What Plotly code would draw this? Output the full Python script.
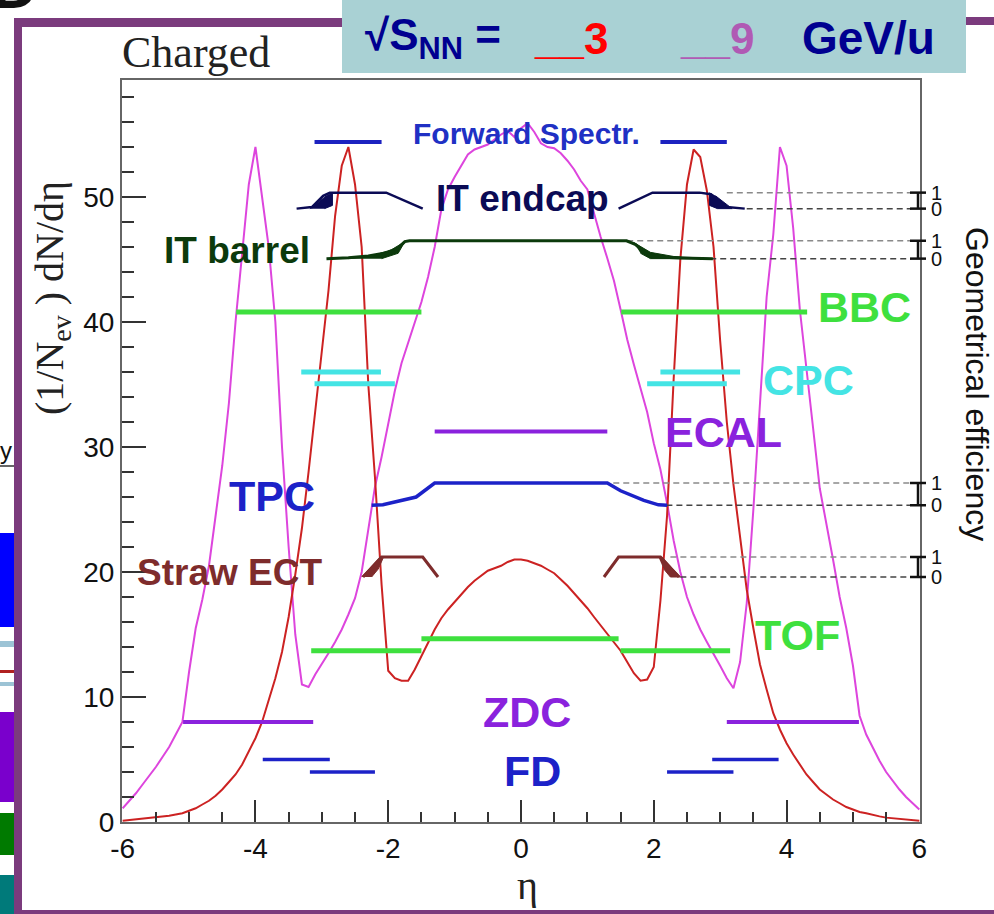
import plotly.graph_objects as go

# ---------------- data ----------------
eta = [-6.0, -5.9, -5.8, -5.7, -5.6, -5.5, -5.4, -5.3, -5.2, -5.1,
       -5.0, -4.9, -4.8, -4.7, -4.6, -4.5, -4.4, -4.3, -4.2, -4.1,
       -4.0, -3.9, -3.8, -3.7, -3.6, -3.5, -3.4, -3.3, -3.2, -3.1,
       -3.0, -2.9, -2.8, -2.7, -2.6, -2.5, -2.4, -2.3, -2.2, -2.1,
       -2.0, -1.9, -1.8, -1.7, -1.6, -1.5, -1.4, -1.3, -1.2, -1.1,
       -1.0, -0.9, -0.8, -0.7, -0.6, -0.5, -0.4, -0.3, -0.2, -0.1,
       0.0, 0.1, 0.2, 0.3, 0.4, 0.5, 0.6, 0.7, 0.8, 0.9,
       1.0, 1.1, 1.2, 1.3, 1.4, 1.5, 1.6, 1.7, 1.8, 1.9,
       2.0, 2.1, 2.2, 2.3, 2.4, 2.5, 2.6, 2.7, 2.8, 2.9,
       3.0, 3.1, 3.2, 3.3, 3.4, 3.5, 3.6, 3.7, 3.8, 3.9,
       4.0, 4.1, 4.2, 4.3, 4.4, 4.5, 4.6, 4.7, 4.8, 4.9,
       5.0, 5.1, 5.2, 5.3, 5.4, 5.5, 5.6, 5.7, 5.8, 5.9, 6.0]

dndeta_3gev = [0.1, 0.15, 0.2, 0.25, 0.3, 0.35, 0.45, 0.5, 0.6, 0.7,
               0.9, 1.1, 1.4, 1.7, 2.1, 2.6, 3.2, 3.8, 4.6, 5.6,
               6.7, 8.0, 9.7, 11.5, 13.6, 16.4, 19.8, 23.5, 28.0, 33.0,
               38.0, 42.5, 48.5, 52.5, 54.0, 51.0, 46.0, 35.0, 27.6, 19.0,
               12.1, 11.5, 11.3, 11.3, 12.2, 13.3, 14.4, 15.4, 16.3, 17.0,
               17.6, 18.2, 18.8, 19.3, 19.7, 20.1, 20.3, 20.5, 20.8, 21.0,
               21.0, 20.9, 20.7, 20.5, 20.2, 19.9, 19.4, 18.9, 18.3, 17.7,
               17.1, 16.4, 15.7, 15.0, 14.3, 13.7, 12.8, 11.9, 11.3, 11.4,
               12.4, 17.7, 24.5, 35.5, 45.0, 51.0, 53.8, 53.2, 50.5, 46.0,
               38.5, 32.0, 27.0, 22.8, 18.6, 15.5, 12.6, 10.6, 8.7, 7.4,
               6.3, 5.4, 4.6, 3.8, 3.2, 2.6, 2.2, 1.8, 1.5, 1.2,
               1.0, 0.8, 0.7, 0.55, 0.45, 0.35, 0.3, 0.25, 0.2, 0.15, 0.1]

dndeta_9gev = [1.1, 1.7, 2.3, 3.0, 3.7, 4.4, 5.2, 6.0, 7.0, 8.0,
               12.0, 15.5, 17.8, 20.5, 24.5, 28.5, 33.5, 40.0, 45.5, 51.0,
               54.0, 50.0, 46.0, 40.0, 30.0, 22.0, 15.0, 11.0, 10.8, 11.8,
               12.6, 13.5, 14.4, 15.4, 16.6, 17.9, 20.0, 23.5, 26.8, 29.2,
               31.8, 34.5, 36.7, 38.4, 40.0, 41.6, 43.6, 46.0, 49.0, 50.6,
               51.6, 52.5, 53.4, 53.8, 54.0, 54.2, 54.6, 55.0, 55.3, 54.8,
               55.5, 55.9, 55.2, 54.3, 54.0, 53.9, 53.5, 52.9, 52.2, 51.3,
               50.6, 48.6, 46.8, 45.1, 43.3, 41.0, 38.6, 36.6, 34.6, 32.8,
               30.3, 28.2, 25.5, 22.5, 20.0, 18.0, 16.6, 15.4, 14.4, 13.5,
               12.5, 11.5, 10.7, 12.8, 17.5, 25.0, 33.5, 42.0, 47.0, 54.0,
               52.5, 47.5, 41.0, 36.5, 31.5, 26.7, 24.0, 21.0, 18.0, 15.5,
               12.5, 8.5, 7.0, 5.9, 4.9, 4.0, 3.3, 2.6, 2.0, 1.5, 1.0]

x_tick_vals = [-6, -4, -2, 0, 2, 4, 6]
x_tick_text = ["-6", "-4", "-2", "0", "2", "4", "6"]
y_tick_vals = [0, 10, 20, 30, 40, 50]

# detector acceptance ranges in eta, and the dN/deta level at which each is drawn
fwd_spectr_ranges = [(-3.11, -2.10), (2.10, 3.10)]
fwd_spectr_level = 54.4
bbc_ranges = [(-4.29, -1.50), (1.51, 4.31)]
bbc_level = 40.8
cpc_upper_ranges = [(-3.31, -2.11), (2.10, 3.30)]
cpc_upper_level = 36.0
cpc_lower_ranges = [(-3.11, -1.90), (1.90, 3.10)]
cpc_lower_level = 35.07
ecal_ranges = [(-1.30, 1.30)]
ecal_level = 31.25
tof_outer_ranges = [(-3.16, -1.50), (1.50, 3.15)]
tof_outer_level = 13.7
tof_inner_ranges = [(-1.50, 1.47)]
tof_inner_level = 14.67
zdc_ranges = [(-5.09, -3.13), (3.10, 5.09)]
zdc_level = 8.0
fd_upper_ranges = [(-3.89, -2.88), (2.88, 3.88)]
fd_upper_level = 5.0
fd_lower_ranges = [(-3.18, -2.20), (2.20, 3.20)]
fd_lower_level = 4.0

# geometrical efficiency curves: (eta, efficiency 0..1) drawn between level0 and level1
it_endcap_eta = [-3.38, -3.15, -2.98, -2.88, -2.03, -1.48, None, 1.47, 1.98, 2.69, 2.86, 3.10, 3.37]
it_endcap_eff = [0.0, 0.1, 0.8, 1.0, 1.0, 0.0, None, 0.0, 1.0, 1.0, 0.9, 0.1, 0.0]
it_endcap_levels = (49.07, 50.35)
it_barrel_eta = [-2.93, -2.6, -2.3, -2.0, -1.85, -1.75, -1.68, 1.59, 1.72, 1.85, 1.98, 2.4, 2.89]
it_barrel_eff = [0.0, 0.05, 0.15, 0.35, 0.6, 0.95, 1.0, 1.0, 0.8, 0.4, 0.1, 0.03, 0.0]
it_barrel_levels = (45.07, 46.5)
tpc_eta = [-2.25, -2.08, -1.58, -1.30, 1.30, 1.50, 1.85, 2.07, 2.20]
tpc_eff = [0.0, 0.02, 0.37, 1.0, 1.0, 0.65, 0.22, 0.02, 0.0]
tpc_levels = (25.34, 27.12)
straw_eta = [-2.38, -2.10, -1.48, -1.25, None, 1.25, 1.47, 2.10, 2.38]
straw_eff = [0.0, 1.0, 1.0, 0.0, None, 0.0, 1.0, 1.0, 0.0]
straw_levels = (19.6, 21.2)

# filled edges of the efficiency curves
it_endcap_fill = [([-3.18, -2.93, -2.84, -2.84, -2.96], [0.0, 0.8, 1.0, 0.2, 0.0]),
                  ([2.84, 2.84, 2.96, 3.18, 2.93], [1.0, 0.2, 0.0, 0.0, 0.8])]
it_barrel_fill = [([-2.6, -2.2, -1.95, -1.8, -1.75, -1.85, -2.1], [0.0, 0.2, 0.5, 0.85, 0.95, 0.3, 0.0]),
                  ([1.70, 1.95, 2.3, 2.88, 1.95, 1.80], [0.9, 0.35, 0.12, 0.0, 0.0, 0.3])]
straw_fill = [([-2.40, -2.12, -2.07, -2.15, -2.25], [0.0, 1.0, 1.0, 0.4, 0.0]),
              ([2.07, 2.12, 2.40, 2.25, 2.15], [1.0, 1.0, 0.0, 0.0, 0.4])]

# dashed guide lines to the efficiency scale: (eta start for level 1, eta start for level 0)
guide_starts = {"it_endcap": (3.10, 3.40), "it_barrel": (1.60, 2.85),
                "tpc": (1.39, 2.19), "straw": (2.25, 2.40)}
guide_end = 5.88

# ---------------- figure geometry ----------------
W, H = 994, 914
L, R, T, B = 122, 74, 80, 92
PW, PH = W - L - R, H - T - B


def px2x(px):
    return (px - L) / PW


def py2y(py):
    return (H - B - py) / PH


def eff_to_y(effs, levels):
    y0, y1 = levels
    return [None if e is None else y0 + e * (y1 - y0) for e in effs]


def seg_xy(ranges, level):
    xs, ys = [], []
    for a, b in ranges:
        xs += [a, b, None]
        ys += [level, level, None]
    return xs, ys


BOLD = "Liberation Sans, Arial, sans-serif"
NARROW = "Liberation Sans Narrow, Arial Narrow, Liberation Sans, Arial, sans-serif"
SERIF = "Liberation Serif, Times New Roman, serif"

fig = go.Figure()

# multiplicity curves
fig.add_trace(go.Scatter(x=eta, y=dndeta_9gev, mode="lines", line=dict(color="#dd45dd", width=2)))
fig.add_trace(go.Scatter(x=eta, y=dndeta_3gev, mode="lines", line=dict(color="#cc2222", width=2)))


def add_segs(ranges, level, color, width):
    xs, ys = seg_xy(ranges, level)
    fig.add_trace(go.Scatter(x=xs, y=ys, mode="lines", line=dict(color=color, width=width)))


add_segs(fwd_spectr_ranges, fwd_spectr_level, "#1c22c0", 4)
add_segs(bbc_ranges, bbc_level, "#3ee03e", 5)
add_segs(cpc_upper_ranges, cpc_upper_level, "#44e4e4", 5)
add_segs(cpc_lower_ranges, cpc_lower_level, "#44e4e4", 5)
add_segs(ecal_ranges, ecal_level, "#8a22dd", 4)
add_segs(tof_outer_ranges, tof_outer_level, "#3ee03e", 5)
add_segs(tof_inner_ranges, tof_inner_level, "#3ee03e", 5)
add_segs(zdc_ranges, zdc_level, "#8a22dd", 4)
add_segs(fd_upper_ranges, fd_upper_level, "#1c22c8", 3.5)
add_segs(fd_lower_ranges, fd_lower_level, "#1c22c8", 3.5)

# efficiency curves
eff_sets = [
    ("it_endcap", it_endcap_eta, it_endcap_eff, it_endcap_levels, "#0b0b55", it_endcap_fill, 2.5),
    ("it_barrel", it_barrel_eta, it_barrel_eff, it_barrel_levels, "#0c3a0c", it_barrel_fill, 3),
    ("tpc", tpc_eta, tpc_eff, tpc_levels, "#1c22c8", None, 3.5),
    ("straw", straw_eta, straw_eff, straw_levels, "#7e2c2c", straw_fill, 3),
]
for name, ex, ee, lev, col, fills, w in eff_sets:
    s1, s0 = guide_starts[name]
    fig.add_trace(go.Scatter(x=[s1, guide_end], y=[lev[1], lev[1]], mode="lines",
                             line=dict(color="#8a8a8a", width=1.5, dash="6px,4px")))
    fig.add_trace(go.Scatter(x=[s0, guide_end], y=[lev[0], lev[0]], mode="lines",
                             line=dict(color="#444444", width=1.5, dash="6px,4px")))
    fig.add_trace(go.Scatter(x=ex, y=eff_to_y(ee, lev), mode="lines",
                             line=dict(color=col, width=w), connectgaps=False))
    if fills:
        for fx, fe in fills:
            fig.add_trace(go.Scatter(x=fx, y=eff_to_y(fe, lev), mode="lines", fill="toself",
                                     fillcolor=col, line=dict(color=col, width=1)))

shapes = []
annotations = []

# efficiency scale marks on the right
for name, ex, ee, lev, col, fills, w in eff_sets:
    for lv, lab in ((lev[1], "1"), (lev[0], "0")):
        shapes.append(dict(type="line", xref="paper", yref="y", x0=px2x(910), x1=px2x(926),
                           y0=lv, y1=lv, line=dict(color="#111", width=2.5)))
        annotations.append(dict(xref="paper", yref="y", x=px2x(936), y=lv, text=lab, showarrow=False,
                                font=dict(family=NARROW, size=20, color="#111"), xanchor="center",
                                yanchor="middle"))
    shapes.append(dict(type="line", xref="paper", yref="y", x0=px2x(918), x1=px2x(918),
                       y0=lev[0], y1=lev[1], line=dict(color="#111", width=2.5)))

# detector labels
labels = [
    ("Forward Spectr.", 0.09, 55.1, "#2030c4", 30),
    ("IT endcap", 0.03, 49.9, "#0b0b55", 37),
    ("IT barrel", -4.28, 45.7, "#0c3a0c", 37),
    ("BBC", 5.18, 41.2, "#3ee03e", 43),
    ("CPC", 4.33, 35.4, "#44e4e4", 43),
    ("ECAL", 3.05, 31.2, "#8a22dd", 43),
    ("TPC", -3.75, 26.1, "#1c22c8", 43),
    ("Straw ECT", -4.39, 20.0, "#7e2c2c", 37),
    ("TOF", 4.17, 15.0, "#3ee03e", 43),
    ("ZDC", 0.09, 8.8, "#8a22dd", 43),
    ("FD", 0.18, 4.1, "#1c22c8", 43),
]
for txt, x, y, col, sz in labels:
    annotations.append(dict(xref="x", yref="y", x=x, y=y, text=txt, showarrow=False,
                            font=dict(family=BOLD, size=sz, color=col, weight="bold"),
                            xanchor="center", yanchor="middle"))

# titles
annotations.append(dict(xref="paper", yref="paper", x=px2x(120), y=py2y(52), text="Charged",
                        showarrow=False, xanchor="left", yanchor="middle",
                        font=dict(family=SERIF, size=44, color="#222")))
annotations.append(dict(xref="paper", yref="paper", x=px2x(52), y=py2y(298),
                        text="(1/N<sub>ev</sub> ) dN/dη", textangle=-90, showarrow=False,
                        xanchor="center", yanchor="middle", font=dict(family=SERIF, size=40, color="#222")))
annotations.append(dict(xref="paper", yref="paper", x=px2x(527), y=py2y(885), text="η",
                        showarrow=False, xanchor="center", yanchor="middle",
                        font=dict(family=SERIF, size=40, color="#222")))
annotations.append(dict(xref="paper", yref="paper", x=px2x(977), y=py2y(384),
                        text="Geometrical efficiency", textangle=90, showarrow=False,
                        xanchor="center", yanchor="middle", font=dict(family=BOLD, size=32, color="#111")))

# page decorations: purple slide frame, title box, neighbouring slide fragments
PURPLE = "#7b3b7d"
for x0, y0, x1, y1, c in [
    (14, 18, 22, 914, PURPLE), (14, 18, 342, 27, PURPLE), (966, 17, 994, 25, PURPLE),
    (14, 910, 994, 914, PURPLE),
    (0, 533, 14, 627, "#0000ff"), (0, 641, 14, 647, "#9cc3d5"), (0, 670, 14, 673, "#b02020"),
    (0, 682, 14, 686, "#9cc3d5"), (0, 712, 14, 802, "#7a00cc"), (0, 813, 14, 855, "#007a00"),
    (0, 875, 14, 914, "#007a7a"), (0, 465, 14, 467, "#666666"),
    (342, 0, 966, 73, "#a9d1d4"),
]:
    shapes.append(dict(type="rect", xref="paper", yref="paper", x0=px2x(x0), x1=px2x(x1),
                       y0=py2y(y1), y1=py2y(y0), fillcolor=c, line=dict(width=0), layer="above"))

annotations.append(dict(xref="paper", yref="paper", x=px2x(6), y=py2y(450), text="y", showarrow=False,
                        font=dict(family=BOLD, size=24, color="#111"), xanchor="center", yanchor="middle"))
annotations.append(dict(xref="paper", yref="paper", x=px2x(40), y=py2y(-14), text="D", showarrow=False,
                        font=dict(family=BOLD, size=64, color="#111", weight="bold"),
                        xanchor="right", yanchor="middle"))

NAVY = "#000090"
box_texts = [
    ("√S<sub>NN</sub> =", 363, NAVY, 44),
    ("__3", 532, "#ff0000", 44),
    ("__9", 678, "#b05ab4", 44),
    ("GeV/u", 800, NAVY, 46),
]
for txt, px, col, sz in box_texts:
    annotations.append(dict(xref="paper", yref="paper", x=px2x(px), y=py2y(38), text=txt, showarrow=False,
                            xanchor="left", yanchor="middle",
                            font=dict(family=BOLD, size=sz, color=col, weight="bold")))

fig.update_layout(
    width=W, height=H, autosize=False,
    margin=dict(l=L, r=R, t=T, b=B, pad=0),
    paper_bgcolor="white", plot_bgcolor="white",
    showlegend=False,
    shapes=shapes, annotations=annotations,
    xaxis=dict(range=[-6.01, 6.01], tickvals=x_tick_vals, ticktext=x_tick_text, ticks="inside", ticklen=22,
               tickwidth=1.5, tickcolor="#333", showline=True, linecolor="#666", linewidth=2, mirror=True,
               showgrid=False, zeroline=False,
               minor=dict(dtick=0.5, tick0=0, ticks="inside", ticklen=10, tickcolor="#333", tickwidth=1.5),
               tickfont=dict(family=NARROW, size=28, color="#111")),
    yaxis=dict(range=[0, 59.36], tickvals=y_tick_vals, ticks="inside", ticklen=24,
               tickwidth=1.5, tickcolor="#333", showline=True, linecolor="#666", linewidth=2, mirror=True,
               showgrid=False, zeroline=False,
               minor=dict(dtick=2, tick0=0, ticks="inside", ticklen=12, tickcolor="#333", tickwidth=1.5),
               tickfont=dict(family=NARROW, size=28, color="#111")),
)

fig.write_html("out.html", config={"displayModeBar": False},
               post_script="document.body.style.margin='0';document.body.style.overflow='hidden';")
